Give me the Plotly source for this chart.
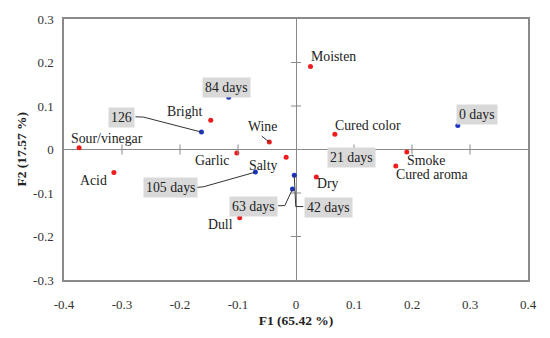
import plotly.graph_objects as go

# ---- data ----
attr_names = ["Sour/vinegar", "Bright", "Wine", "Garlic", "Salty", "Moisten",
              "Cured color", "Smoke", "Cured aroma", "Dry", "Acid", "Dull"]
attr_f1 = [-0.374, -0.147, -0.046, -0.102, -0.017, 0.025, 0.067, 0.191, 0.172, 0.035, -0.314, -0.097]
attr_f2 = [0.004, 0.067, 0.017, -0.008, -0.018, 0.191, 0.035, -0.006, -0.038, -0.063, -0.053, -0.157]

day_names = ["0 days", "21 days", "42 days", "63 days", "84 days", "105 days", "126"]
day_f1 = [0.279, 0.095, -0.003, -0.006, -0.116, -0.070, -0.163]
day_f2 = [0.055, -0.018, -0.059, -0.091, 0.120, -0.052, 0.040]

tick_vals = [-0.4, -0.3, -0.2, -0.1, 0, 0.1, 0.2, 0.3, 0.4]
tick_text = ["-0.4", "-0.3", "-0.2", "-0.1", "0", "0.1", "0.2", "0.3", "0.4"]
ytick_vals = [-0.3, -0.2, -0.1, 0, 0.1, 0.2, 0.3]
ytick_text = ["-0.3", "-0.2", "-0.1", "0", "0.1", "0.2", "0.3"]

x_title = "<b>F1 (65.42 %)</b>"
y_title = "<b>F2 (17.57 %)</b>"

# ---- styles (label offsets in screen pixels, y downwards) ----
attr_off = {"Sour/vinegar": (28, -9), "Bright": (-26, -9), "Wine": (-7, -16),
            "Garlic": (-25, 8), "Salty": (-23, 8), "Moisten": (23, -10),
            "Cured color": (33, -9), "Smoke": (19, 8), "Cured aroma": (36, 8),
            "Dry": (12, 7), "Acid": (-20, 8), "Dull": (-19, 7)}
day_off = {"0 days": (19, -11), "21 days": (0, 0), "42 days": (34, 32),
           "63 days": (-39, 17), "84 days": (-2, -10), "105 days": (-85, 15),
           "126": (-80, -15)}
leaders = {"Wine": [(0, 0), (-7.6, -6)],
           "126": [(0, 0), (-58, -15), (-66, -15.3)],
           "105 days": [(0, 0), (-52, 14.7), (-58.5, 15.3)],
           "63 days": [(0, 0), (-7.7, 16.5), (-14.5, 16.7)],
           "42 days": [(0, 0), (1.5, 31.4), (9, 31.4)]}

FONT = "Liberation Serif"
RED = "#ee1c1c"
BLUE = "#1a35c4"
GRID = "#8a8a8a"
TXT = "#222222"
LBL = 13.8

fig = go.Figure()
fig.add_trace(go.Scatter(x=attr_f1, y=attr_f2, mode="markers", marker=dict(color=RED, size=5),
                         hoverinfo="text", text=attr_names, showlegend=False))
fig.add_trace(go.Scatter(x=day_f1, y=day_f2, mode="markers", marker=dict(color=BLUE, size=5),
                         hoverinfo="text", text=day_names, showlegend=False))

shapes = []
# tick marks crossing zero lines
for v in tick_vals:
    if v not in (0, -0.4, 0.4):
        shapes.append(dict(type="line", xref="x", yref="y", ysizemode="pixel",
                           x0=v, x1=v, yanchor=0, y0=-5, y1=5, line=dict(color=GRID, width=1)))
for v in ytick_vals:
    if v not in (0, -0.3, 0.3):
        shapes.append(dict(type="line", xref="x", yref="y", xsizemode="pixel",
                           y0=v, y1=v, xanchor=0, x0=-5, x1=5, line=dict(color=GRID, width=1)))

def add_leader(name, x, y):
    pts = leaders[name]
    path = "M " + " L ".join(f"{px} {-py}" for px, py in pts)
    shapes.append(dict(type="path", xref="x", yref="y", xsizemode="pixel", ysizemode="pixel",
                       xanchor=x, yanchor=y, path=path, line=dict(color="#333333", width=1)))

annotations = []
for n, x, y in zip(attr_names, attr_f1, attr_f2):
    dx, dy = attr_off[n]
    annotations.append(dict(x=x, y=y, xref="x", yref="y", text=n, showarrow=False,
                            xshift=dx, yshift=-dy, font=dict(family=FONT, size=LBL, color=TXT)))
    if n in leaders:
        add_leader(n, x, y)
for n, x, y in zip(day_names, day_f1, day_f2):
    dx, dy = day_off[n]
    annotations.append(dict(x=x, y=y, xref="x", yref="y", text=n, showarrow=False,
                            xshift=dx, yshift=-dy, bgcolor="#d9d9d9", borderpad=2,
                            font=dict(family=FONT, size=LBL, color=TXT)))
    if n in leaders:
        add_leader(n, x, y)

# y-axis title placed explicitly
annotations.append(dict(xref="paper", yref="paper", x=0, y=0.5, xshift=-43, text=y_title,
                        textangle=-90, showarrow=False, xanchor="center", yanchor="middle",
                        font=dict(family=FONT, size=13.5, color=TXT)))

fig.update_layout(
    width=550, height=338,
    margin=dict(l=64, r=22, t=12, b=53),
    paper_bgcolor="white", plot_bgcolor="white",
    font=dict(family=FONT, size=13, color=TXT),
    shapes=shapes, annotations=annotations,
    xaxis=dict(range=[-0.4, 0.4], tickvals=tick_vals, ticktext=tick_text, showgrid=False,
               zeroline=True, zerolinecolor=GRID, zerolinewidth=1,
               showline=True, linecolor=GRID, linewidth=1.5, mirror=True, ticks="",
               ticklabelstandoff=12, ticklabeloverflow="allow",
               tickfont=dict(family=FONT, size=13, color="#333333"),
               title=dict(text=x_title, standoff=4, font=dict(family=FONT, size=13.5))),
    yaxis=dict(range=[-0.3, 0.3], tickvals=ytick_vals, ticktext=ytick_text, showgrid=False,
               zeroline=True, zerolinecolor=GRID, zerolinewidth=1,
               showline=True, linecolor=GRID, linewidth=1.5, mirror=True, ticks="",
               ticklabelstandoff=6, ticklabeloverflow="allow",
               tickfont=dict(family=FONT, size=13, color="#333333")),
)

fig.write_html("out.html", config={"displayModeBar": False},
               post_script="document.body.style.margin='0';")
